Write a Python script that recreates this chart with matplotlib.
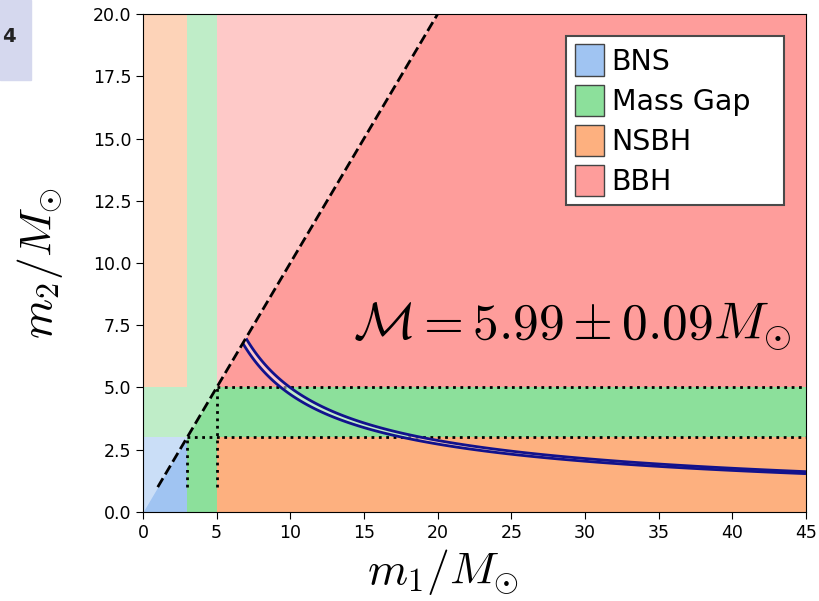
import numpy as np
import matplotlib.pyplot as plt
from matplotlib.colors import ListedColormap
from matplotlib.patches import Patch, Rectangle

plt.rcParams['mathtext.fontset'] = 'cm'

# mass class boundaries (solar masses)
ns_max = 3.0
gap_max = 5.0
m1_max = 45.0
m2_max = 20.0

classes = ['BNS', 'Mass Gap', 'NSBH', 'BBH']
class_colors = ['#a0c4f2', '#8ce09b', '#fdb07f', '#fe9d9b']

# class index for each (m2 bin, m1 bin): bins are NS, gap, BH
class_grid = [[0, 1, 2],
              [1, 1, 1],
              [2, 1, 3]]

chirp_mass = 5.99
chirp_err = 0.09

fig = plt.figure(figsize=(8.19, 6.01), dpi=100)
ax = fig.add_axes([0.1746, 0.1481, 0.8095, 0.8286])

# slide tab in the corner
fig.patches.append(Rectangle((0, 1 - 80 / 601), 31 / 819, 80 / 601,
                             transform=fig.transFigure, color='#d5d8ee', zorder=0))
fig.text(2 / 819, 1 - 37 / 601, '4', ha='left', va='center', fontsize=14,
         fontweight='bold', color='#222222')

edges_x = [0, ns_max, gap_max, m1_max]
edges_y = [0, ns_max, gap_max, m2_max]
ax.pcolormesh(edges_x, edges_y, np.array(class_grid),
              cmap=ListedColormap(class_colors), vmin=-0.5, vmax=3.5, zorder=0)

# fade the m2 > m1 half
diag = np.array([0, m2_max])
ax.fill_between(diag, diag, m2_max, color='white', alpha=0.45, lw=0, zorder=1)

# class boundaries
ax.hlines([ns_max, gap_max], [ns_max, gap_max], m1_max, colors='k',
          linestyles=':', lw=2, zorder=2)
ax.vlines([ns_max, gap_max], 1, [ns_max, gap_max], colors='k',
          linestyles=':', lw=2, zorder=2)

# chirp mass band, only for m1 >= m2
m1g, m2g = np.meshgrid(np.linspace(0.5, m1_max, 1200), np.linspace(0.5, m2_max, 900))
mc = (m1g * m2g) ** 0.6 / (m1g + m2g) ** 0.2
mc = np.ma.masked_where(m2g > m1g, mc)
levels = [chirp_mass - chirp_err, chirp_mass + chirp_err]
ax.contourf(m1g, m2g, mc, levels=levels, colors='white', alpha=0.45, zorder=3)
ax.contour(m1g, m2g, mc, levels=levels, colors='#12128c', linewidths=2, zorder=4)

ax.plot([1, m2_max], [1, m2_max], 'k--', lw=2, zorder=5)

ax.text(29.15, 6.95, rf'$\mathcal{{M}} = {chirp_mass:.2f} \pm {chirp_err:.2f} M_{{\odot}}$',
        fontsize=37, ha='center', va='baseline', zorder=6)

ax.set_xlim(0, m1_max)
ax.set_ylim(0, m2_max)
ax.set_xticks(np.arange(0, 46, 5))
ax.set_yticks(np.arange(0, 20.1, 2.5))
ax.yaxis.set_major_formatter('{x:.1f}')
ax.tick_params(labelsize=12.5, length=5)
ax.set_xlabel(r'$m_1/M_{\odot}$', fontsize=33)
ax.set_ylabel(r'$m_2/M_{\odot}$', fontsize=33)
ax.xaxis.set_label_coords(0.4525, -0.07)
ax.yaxis.set_label_coords(-0.118, 0.5)

handles = [Patch(facecolor=c, edgecolor='#444444', label=l)
           for c, l in zip(class_colors, classes)]
leg = ax.legend(handles=handles, loc='upper left', bbox_to_anchor=(0.638, 0.956, 0.3288, 0),
                mode='expand', borderaxespad=0, fontsize=20.5, fancybox=False,
                framealpha=1, edgecolor='#4a4a4a', borderpad=0.3,
                handlelength=1.05, handleheight=1.33, handletextpad=0.25, labelspacing=0.3)
leg.get_frame().set_linewidth(1.5)

fig.savefig('out.png', dpi=100)
